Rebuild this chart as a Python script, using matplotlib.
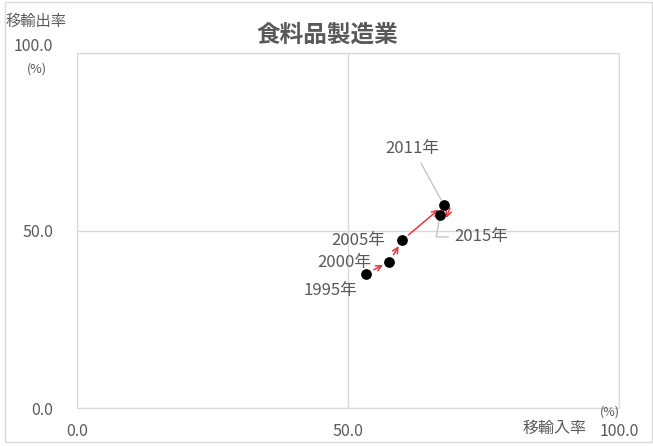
import matplotlib
matplotlib.use("Agg")
import matplotlib.pyplot as plt
import matplotlib.transforms as mtransforms
from matplotlib.patches import Rectangle

plt.rcParams['font.family'] = ['Noto Sans CJK JP', 'DejaVu Sans']

# data
years = ['1995年', '2000年', '2005年', '2011年', '2015年']
import_rate = [53.4, 57.6, 60.0, 67.7, 67.0]   # 移輸入率 (%)
export_rate = [37.9, 41.2, 47.3, 57.2, 54.4]   # 移輸出率 (%)
ticks = [0, 50, 100]
tick_labels = ['0.0', '50.0', '100.0']

grey = '#595959'
line_grey = '#d9d9d9'
red = '#e8383d'

fig = plt.figure(figsize=(6.53, 4.46), dpi=100)
fig.patches.append(Rectangle((0.008, 0.01), 0.99, 0.985, transform=fig.transFigure,
                             fill=False, edgecolor=line_grey, linewidth=1))
ax = fig.add_axes([0.118, 0.085, 0.830, 0.796])

ax.set_xlim(0, 100)
ax.set_ylim(0, 100)
ax.set_xticks(ticks)
ax.set_yticks(ticks)
ax.set_xticklabels(tick_labels)
ax.set_yticklabels(tick_labels)
ax.tick_params(length=0, labelsize=11.5, colors=grey)
ax.tick_params(axis='x', pad=11)
ax.tick_params(axis='y', pad=17)
ax.grid(True, color=line_grey, linewidth=1)
for s in ax.spines.values():
	s.set_color(line_grey)

# top y label sits a little higher in the original
top_lbl = ax.get_yticklabels()[2]
top_lbl.set_transform(top_lbl.get_transform() +
					  mtransforms.ScaledTranslation(0, 6 / 72, fig.dpi_scale_trans))

fig.text(0.502, 0.921, '食料品製造業', fontsize=17, fontweight='bold', color=grey,
		 ha='center', va='center')

# axis names
fig.text(0.055, 0.952, '移輸出率', fontsize=11, color=grey, ha='center', va='center')
fig.text(0.057, 0.845, '(%)', fontsize=9, color=grey, ha='center', va='center')
fig.text(0.850, 0.04, '移輸入率', fontsize=11.5, color=grey, ha='center', va='center')
fig.text(0.934, 0.076, '(%)', fontsize=9, color=grey, ha='center', va='center')

# arrows between years
for i in range(len(years) - 2):
	ax.annotate('', xy=(import_rate[i + 1], export_rate[i + 1]),
				xytext=(import_rate[i], export_rate[i]),
				arrowprops=dict(arrowstyle='->', color=red, lw=1.1,
								shrinkA=6, shrinkB=5, mutation_scale=10))
# last step, drawn a bit to the side of the points
off = mtransforms.offset_copy(ax.transData, fig=fig, x=6, y=-3, units='dots')
ax.annotate('', xy=(import_rate[4], export_rate[4]), xycoords=off,
			xytext=(import_rate[3], export_rate[3]), textcoords=off,
			arrowprops=dict(arrowstyle='->', color=red, lw=1.1,
							shrinkA=0, shrinkB=0, mutation_scale=10))

ax.scatter(import_rate, export_rate, s=45, color='black', zorder=5)

# labels
label_pos = [(46.7, 33.0), (49.3, 41.1), (51.8, 47.3), (61.8, 73.2), (74.5, 48.2)]
for i, name in enumerate(years):
	if i == 3:
		ax.annotate(name, xy=(import_rate[i], export_rate[i]), xytext=label_pos[i],
					fontsize=12, color=grey, ha='center', va='center',
					arrowprops=dict(arrowstyle='-', color='#bfbfbf', lw=0.9,
									relpos=(0.6, 0), shrinkA=3, shrinkB=4))
	elif i == 4:
		ax.annotate(name, xy=(import_rate[i], export_rate[i]), xytext=label_pos[i],
					fontsize=12, color=grey, ha='center', va='center',
					arrowprops=dict(arrowstyle='-', color='#bfbfbf', lw=0.9,
									relpos=(0, 0.5), shrinkA=2, shrinkB=4,
									connectionstyle='angle,angleA=0,angleB=80,rad=0'))
	else:
		ax.text(label_pos[i][0], label_pos[i][1], name, fontsize=12, color=grey,
				ha='center', va='center')

fig.savefig('out.png', dpi=100)
